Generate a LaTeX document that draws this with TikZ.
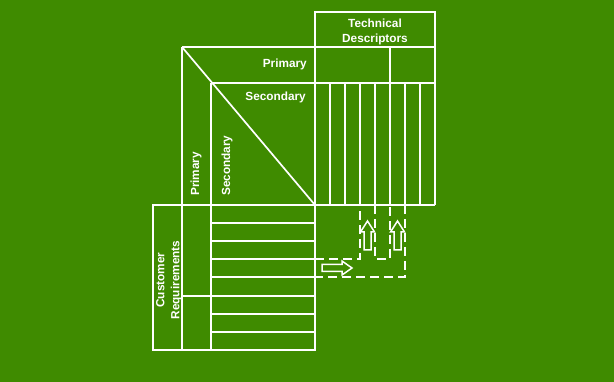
\documentclass[tikz,border=0pt]{standalone}
\usepackage{fontspec}
\setmainfont{Liberation Sans}
\definecolor{bggreen}{RGB}{63,139,0}
\begin{document}
\begin{tikzpicture}[x=1pt,y=-1pt,
  grid/.style={draw=white,line width=1.7pt},
  dashline/.style={draw=white,line width=1.7pt,dash pattern=on 9pt off 5pt},
  blockarrow/.style={draw=white,line width=1.5pt,line join=miter},
  lbl/.style={text=white,font=\bfseries\fontsize{11.8}{15}\selectfont,inner sep=0pt}]
\fill[bggreen] (0,0) rectangle (614,382);
\useasboundingbox (0,0) rectangle (614,382);
% technical descriptors box
\draw[grid] (315,12) rectangle (435,47);
\node[lbl,align=center] (td) at (375,32) {Technical\\Descriptors};
% roof area
\draw[grid] (182,47) -- (435,47);
\draw[grid] (211,83) -- (435,83);
\draw[grid] (435,47) -- (435,205);
\draw[grid] (315,47) -- (315,350);
\draw[grid] (390,47) -- (390,205);
\foreach \x in {330,345,360,375,405,420} \draw[grid] (\x,83) -- (\x,205);
\draw[grid] (182,47) -- (315,205);
\draw[grid] (153,205) -- (435,205);
% left columns
\draw[grid] (182,47) -- (182,350);
\draw[grid] (211,83) -- (211,350);
\draw[grid] (153,205) rectangle (315,350);
\foreach \y in {223,241,259,277,314,332} \draw[grid] (211,\y) -- (315,\y);
\draw[grid] (182,296) -- (315,296);
% labels
\node[lbl,anchor=east] (prh) at (307,64) {Primary};
\node[lbl,anchor=east] (seh) at (306,97) {Secondary};
\node[lbl,rotate=90,anchor=west] (prv) at (196,196) {Primary};
\node[lbl,rotate=90,anchor=west] (sev) at (227,196) {Secondary};
\node[lbl,rotate=90,align=center] (cr) at (169,280) {Customer\\Requirements};
% dashed extensions
\draw[dashline] (315,259) -- (360,259) -- (360,205);
\draw[dashline] (375,205) -- (375,259) -- (390,259) -- (390,205);
\draw[dashline] (405,205) -- (405,277) -- (315,277);
% block arrows
\draw[blockarrow] (322,264.5) -- (342,264.5) -- (342,261) -- (352,268) -- (342,275) -- (342,271.5) -- (322,271.5) -- cycle;
\foreach \cx in {367.5,397.5}
  \draw[blockarrow] (\cx-3.5,250) -- (\cx-3.5,232) -- (\cx-7,232) -- (\cx,221) -- (\cx+7,232) -- (\cx+3.5,232) -- (\cx+3.5,250) -- cycle;
\end{tikzpicture}
\end{document}
